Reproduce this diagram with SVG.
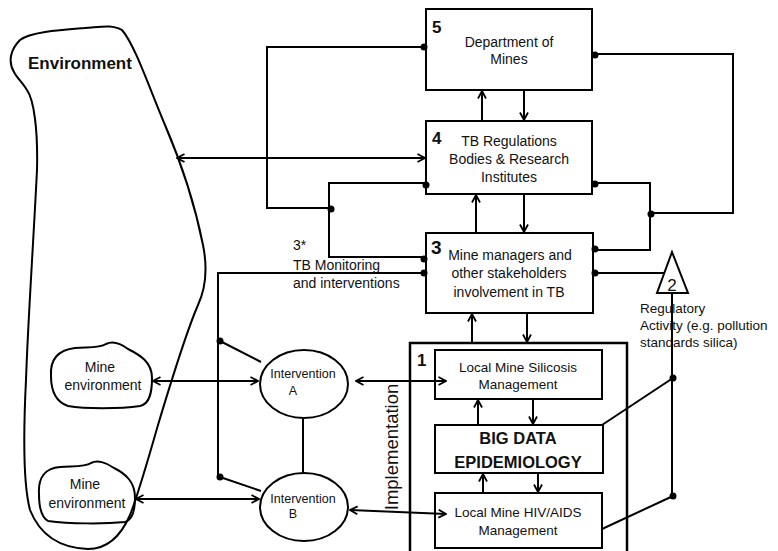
<svg xmlns="http://www.w3.org/2000/svg" width="778" height="551" viewBox="0 0 778 551">
<style>
.box{fill:#fff;stroke:#000;stroke-width:2}
.ln{fill:none;stroke:#000;stroke-width:2}
.ar{fill:none;stroke:#000;stroke-width:2;marker-end:url(#ah)}
.ar2{fill:none;stroke:#000;stroke-width:2;marker-end:url(#ah);marker-start:url(#ah)}
.dot{fill:#000}
text{font-family:"Liberation Sans",Arial,sans-serif;fill:#111}
.t{font-size:14px;text-anchor:middle}
.ts{font-size:13.5px;text-anchor:middle}
.num{font-size:17px;font-weight:bold}
.big{font-size:16.5px;font-weight:bold;text-anchor:middle}
.iv{font-size:12.5px;text-anchor:middle}
.lab{font-size:14px}
</style>
<defs>
<marker id="ah" viewBox="0 0 10 10" refX="9" refY="5" markerWidth="10" markerHeight="10" markerUnits="userSpaceOnUse" orient="auto-start-reverse">
<path d="M1.5,1 L9,5 L1.5,9" fill="none" stroke="#000" stroke-width="1.8"/>
</marker>
</defs>
<rect width="778" height="551" fill="#fff"/>

<g id="environment">
<path class="ln" d="M14,72 C8,62 10,50 20,40 C30,32 60,30 85,28 C100,27 112,24 122,30 C135,45 150,90 165,125 C180,160 195,205 203,245 C208,270 205,290 198,305 C185,335 170,385 158,425 C148,460 138,495 130,515 C120,538 105,549 88,549 C60,548 40,535 30,510 C22,480 24,420 26,380 C28,320 33,250 37,170 C38,130 34,100 27,90 C22,82 17,78 14,72 Z"/>
<text x="28" y="69" style="font-size:17px;font-weight:bold">Environment</text>
</g>

<g id="mine-env-1">
<path class="ln" fill="#fff" d="M51,376 C50,360 58,350 75,348 C90,347 100,348 106,344 C112,341 120,343 128,349 C140,355 152,362 152,378 C152,392 150,404 140,406 C120,409 85,409 68,406 C56,402 51,390 51,376 Z"/>
<text class="lab" x="100" y="372" text-anchor="middle">Mine</text>
<text class="lab" x="103" y="390" text-anchor="middle">environment</text>
</g>

<g id="mine-env-2">
<path class="ln" d="M39,494 C38,478 45,468 60,467 C75,466 85,467 91,463 C97,460 106,462 114,468 C126,474 135,482 135,498 C135,510 132,520 125,522 C105,524 70,524 48,521 C41,517 39,506 39,494 Z"/>
<text class="lab" x="85" y="489" text-anchor="middle">Mine</text>
<text class="lab" x="87" y="508" text-anchor="middle">environment</text>
</g>

<g id="box5">
<rect class="box" x="426" y="9" width="166" height="81"/>
<text class="num" x="432" y="33">5</text>
<text class="t" x="509" y="47">Department of</text>
<text class="t" x="509" y="64">Mines</text>
</g>

<g id="box4">
<rect class="box" x="426" y="121" width="166" height="73"/>
<text class="num" x="432" y="144">4</text>
<text class="t" x="509" y="146">TB Regulations</text>
<text class="t" x="509" y="164">Bodies &amp; Research</text>
<text class="t" x="509" y="182">Institutes</text>
</g>

<g id="box3">
<rect class="box" x="426" y="233" width="167" height="80"/>
<text x="431" y="254" style="font-size:19px;font-weight:bold">3</text>
<text class="t" x="510" y="260">Mine managers and</text>
<text class="t" x="509" y="278">other stakeholders</text>
<text class="t" x="509" y="297">involvement in TB</text>
</g>

<g id="box1">
<path class="ln" style="stroke-width:2.5" d="M410,560 V343 H627 V560"/>
<text class="num" x="417" y="366">1</text>
<text transform="translate(398,447) rotate(-90)" style="font-size:18.5px;text-anchor:middle">Implementation</text>
</g>

<g id="silicosis">
<rect class="box" x="435" y="350" width="167" height="49"/>
<text class="ts" x="518" y="372">Local Mine Silicosis</text>
<text class="ts" x="518" y="389">Management</text>
</g>

<g id="bigdata">
<rect class="box" x="435" y="425" width="168" height="48"/>
<text class="big" x="518" y="444">BIG DATA</text>
<text class="big" x="518" y="468">EPIDEMIOLOGY</text>
</g>

<g id="hiv">
<rect class="box" x="435" y="493" width="167" height="55"/>
<text class="ts" x="518" y="517">Local Mine HIV/AIDS</text>
<text class="ts" x="518" y="535">Management</text>
</g>

<g id="interventionA">
<ellipse class="box" cx="304" cy="384" rx="44" ry="34"/>
<text class="iv" x="303" y="378">Intervention</text>
<text class="iv" x="293" y="395">A</text>
</g>

<g id="interventionB">
<ellipse class="box" cx="304" cy="507" rx="44" ry="34"/>
<text class="iv" x="303" y="503">Intervention</text>
<text class="iv" x="293" y="518">B</text>
</g>

<g id="regulatory">
<path class="box" d="M672,252 L657,293 L688,293 Z"/>
<text x="672" y="291" style="font-size:17px;text-anchor:middle">2</text>
</g>

<g id="labels">
<text class="lab" x="293" y="250">3*</text>
<text class="lab" x="293" y="270">TB Monitoring</text>
<text class="lab" x="293" y="288">and interventions</text>
<text class="lab" x="640" y="313" style="font-size:13.5px">Regulatory</text>
<text class="lab" x="640" y="330" style="font-size:13.5px">Activity (e.g. pollution</text>
<text class="lab" x="640" y="347" style="font-size:13.5px">standards silica)</text>
</g>

<g id="connectors">
<path class="ln" d="M426,47 H267 V208 H329"/>
<path class="ln" d="M426,183 H329 V257 H426"/>
<path class="ln" d="M426,273 H218 V477"/>
<path class="ln" d="M220,341 L261,362"/>
<path class="ln" d="M220,477 L261,491"/>
<path class="ln" d="M592,54 H733 V213 H650"/>
<path class="ln" d="M592,183 H650 V250 H592"/>
<path class="ln" d="M592,273 H665"/>
<path class="ln" d="M672,293 V496"/>
<path class="ln" d="M602,425 L673,378"/>
<path class="ln" d="M602,529 L673,496"/>
<path class="ln" d="M303,418 V473"/>

<path class="ar" d="M482,121 V91"/>
<path class="ar" d="M524,90 V120"/>
<path class="ar" d="M476,233 V195"/>
<path class="ar" d="M524,194 V232"/>
<path class="ar" d="M472,343 V314"/>
<path class="ar" d="M527,313 V342"/>
<path class="ar" d="M478,425 V400"/>
<path class="ar" d="M533,399 V424"/>
<path class="ar" d="M483,493 V474"/>
<path class="ar" d="M538,473 V492"/>

<path class="ar2" d="M177,158 H425"/>
<path class="ar2" d="M153,381 H258"/>
<path class="ar2" d="M136,499 H259"/>
<path class="ar2" d="M356,381 H446"/>
<path class="ar2" d="M350,510 L446,514"/>

<circle class="dot" cx="424" cy="47" r="3.5"/>
<circle class="dot" cx="331" cy="209" r="3.5"/>
<circle class="dot" cx="426" cy="185" r="3.5"/>
<circle class="dot" cx="424" cy="259" r="3.5"/>
<circle class="dot" cx="424" cy="273" r="3.5"/>
<circle class="dot" cx="220" cy="341" r="3.5"/>
<circle class="dot" cx="220" cy="477" r="3.5"/>
<circle class="dot" cx="595" cy="55" r="3.5"/>
<circle class="dot" cx="651" cy="214" r="3.5"/>
<circle class="dot" cx="595" cy="184" r="3.5"/>
<circle class="dot" cx="595" cy="249" r="3.5"/>
<circle class="dot" cx="595" cy="273" r="3.5"/>
<circle class="dot" cx="673" cy="378" r="3.5"/>
<circle class="dot" cx="673" cy="496" r="3.5"/>
</g>
</svg>
